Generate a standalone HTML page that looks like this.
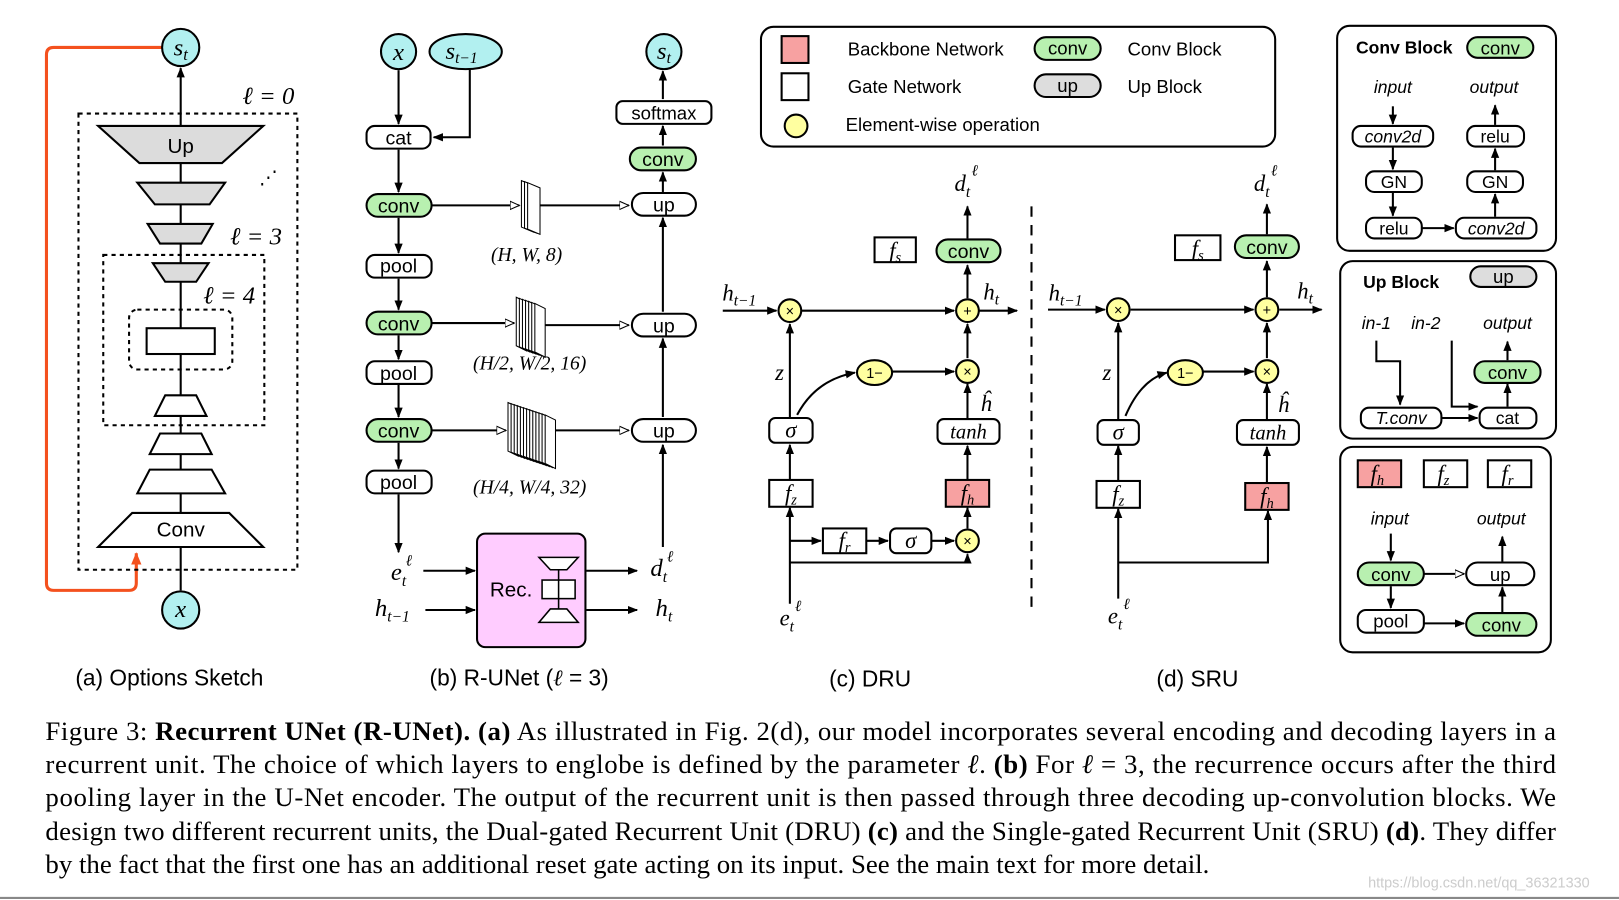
<!DOCTYPE html>
<html><head><meta charset="utf-8"><style>
html,body{margin:0;padding:0;background:#fff;overflow:hidden}
svg{display:block}
.s{font-family:"Liberation Sans",sans-serif}
.m{font-family:"Liberation Serif",serif;font-style:italic}
.r{font-family:"Liberation Serif",serif}
</style></head><body>
<svg width="1619" height="900" viewBox="0 0 1568 872" preserveAspectRatio="none" xmlns="http://www.w3.org/2000/svg">
<defs>
<marker id="a" markerWidth="10" markerHeight="10" refX="9" refY="5" orient="auto" markerUnits="userSpaceOnUse"><path d="M0,1 L10,5 L0,9 z" fill="#000"/></marker>
<marker id="h" markerWidth="10" markerHeight="10" refX="9" refY="5" orient="auto" markerUnits="userSpaceOnUse"><path d="M0,1 L9,5 L0,9 z" fill="#fff" stroke="#000"/></marker>
<marker id="o" markerWidth="12" markerHeight="12" refX="11" refY="6" orient="auto" markerUnits="userSpaceOnUse"><path d="M0,1 L12,6 L0,11 z" fill="#f4511e"/></marker>
</defs>
<rect width="1568" height="872" fill="#fff"/>
<g stroke="#000" stroke-width="2" fill="none">
<path d="M157,46 H52 Q45,46 45,53 V565 Q45,572 52,572 H125 Q132,572 132,565 V536" stroke="#f4511e" stroke-width="3" marker-end="url(#o)"/>
<line x1="175" y1="572" x2="175" y2="66" marker-end="url(#a)"/>
<rect x="76" y="110" width="212" height="442" stroke-dasharray="4,4"/>
<rect x="100" y="247" width="156" height="165" stroke-dasharray="4,4"/>
<rect x="125" y="300" width="100" height="58" rx="8" stroke-dasharray="4,4"/>
<polygon points="95,122 255,122 215,158 135,158" fill="#dcdcdc"/>
<polygon points="133,177 218,177 203,198 150,198" fill="#dcdcdc"/>
<polygon points="143,217 206,217 195,236 155,236" fill="#dcdcdc"/>
<polygon points="148,255 202,255 190,273 160,273" fill="#dcdcdc"/>
<rect x="142" y="318" width="66" height="25" fill="#fff"/>
<polygon points="160,383 190,383 200,403 150,403" fill="#fff"/>
<polygon points="155,420 195,420 205,440 145,440" fill="#fff"/>
<polygon points="145,455 205,455 218,478 133,478" fill="#fff"/>
<polygon points="128,497 222,497 255,530 95,530" fill="#fff"/>
<circle cx="175" cy="46" r="18" fill="#b2f0f0"/>
<circle cx="175" cy="591" r="18" fill="#b2f0f0"/>
</g>
<g class="s" font-size="20" text-anchor="middle">
<text x="175" y="148">Up</text><text x="175" y="520">Conv</text>
</g>
<g class="m" font-size="24" text-anchor="middle">
<text x="175" y="54">s<tspan font-size="16" dy="4">t</tspan></text>
<text x="175" y="598">x</text>
<text x="260" y="101">ℓ = 0</text><text x="248" y="237">ℓ = 3</text><text x="222" y="294">ℓ = 4</text>
<text x="260" y="178" font-size="18" font-style="normal">⋰</text>
</g>
<g stroke="#000" stroke-width="2" fill="none">
<line x1="386" y1="68" x2="386" y2="120" marker-end="url(#a)"/>
<path d="M455,66 V133 H420" marker-end="url(#a)"/>
<line x1="386" y1="145" x2="386" y2="186" marker-end="url(#a)"/>
<line x1="386" y1="211" x2="386" y2="245" marker-end="url(#a)"/>
<line x1="386" y1="270" x2="386" y2="300" marker-end="url(#a)"/>
<line x1="386" y1="325" x2="386" y2="348" marker-end="url(#a)"/>
<line x1="386" y1="373" x2="386" y2="404" marker-end="url(#a)"/>
<line x1="386" y1="429" x2="386" y2="454" marker-end="url(#a)"/>
<line x1="386" y1="479" x2="386" y2="535" marker-end="url(#a)"/>
<line x1="418" y1="199" x2="503" y2="199" marker-end="url(#h)"/>
<line x1="522" y1="199" x2="609" y2="199" marker-end="url(#h)"/>
<line x1="418" y1="313" x2="498" y2="313" marker-end="url(#h)"/>
<line x1="528" y1="315" x2="609" y2="315" marker-end="url(#h)"/>
<line x1="418" y1="417" x2="490" y2="417" marker-end="url(#h)"/>
<line x1="538" y1="417" x2="609" y2="417" marker-end="url(#h)"/>
<line x1="642" y1="530" x2="642" y2="431" marker-end="url(#a)"/>
<line x1="642" y1="404" x2="642" y2="328" marker-end="url(#a)"/>
<line x1="642" y1="302" x2="642" y2="211" marker-end="url(#a)"/>
<line x1="642" y1="186" x2="642" y2="167" marker-end="url(#a)"/>
<line x1="642" y1="141" x2="642" y2="122" marker-end="url(#a)"/>
<line x1="642" y1="96" x2="642" y2="69" marker-end="url(#a)"/>
<line x1="410" y1="553" x2="460" y2="553" marker-end="url(#a)"/>
<line x1="412" y1="591" x2="460" y2="591" marker-end="url(#a)"/>
<line x1="568" y1="553" x2="617" y2="553" marker-end="url(#a)"/>
<line x1="568" y1="591" x2="617" y2="591" marker-end="url(#a)"/>
<circle cx="386" cy="50" r="17" fill="#b2f0f0"/>
<ellipse cx="451" cy="50" rx="35" ry="17" fill="#b2f0f0"/>
<circle cx="643" cy="50" r="17" fill="#b2f0f0"/>
<rect x="355" y="122" width="62" height="22" rx="8" fill="#fff"/>
<rect x="355" y="188" width="63" height="22" rx="11" fill="#b8f0b0"/>
<rect x="355" y="247" width="63" height="22" rx="8" fill="#fff"/>
<rect x="355" y="302" width="63" height="22" rx="11" fill="#b8f0b0"/>
<rect x="355" y="350" width="63" height="22" rx="8" fill="#fff"/>
<rect x="355" y="406" width="63" height="22" rx="11" fill="#b8f0b0"/>
<rect x="355" y="456" width="63" height="22" rx="8" fill="#fff"/>
<rect x="597" y="98" width="92" height="22" rx="6" fill="#fff"/>
<rect x="610" y="143" width="64" height="22" rx="11" fill="#b8f0b0"/>
<rect x="612" y="187" width="62" height="22" rx="11" fill="#fff"/>
<rect x="612" y="304" width="62" height="22" rx="11" fill="#fff"/>
<rect x="612" y="406" width="62" height="22" rx="11" fill="#fff"/>
<rect x="462" y="517" width="105" height="110" rx="8" fill="#ffccff"/>
<polygon points="522,540 560,540 549,552 533,552" fill="#fff" stroke-width="1.5"/>
<rect x="525" y="562" width="32" height="18" fill="#fff" stroke-width="1.5"/>
<polygon points="533,590 549,590 560,603 522,603" fill="#fff" stroke-width="1.5"/>
<line x1="541" y1="552" x2="541" y2="590" stroke-width="1.5"/>
</g>
<g stroke="#000" stroke-width="1" fill="#fff">
<polygon points="505,175 517,180 517,225 505,220"/><polygon points="508,176 520,181 520,226 508,221"/><polygon points="511,177 523,182 523,227 511,222"/>
<polygon points="500,288 510,293 510,340 500,335"/><polygon points="503,289 513,294 513,341 503,336"/><polygon points="506,290 516,295 516,342 506,337"/><polygon points="509,291 519,296 519,343 509,338"/><polygon points="512,292 522,297 522,344 512,339"/><polygon points="515,293 525,298 525,345 515,340"/><polygon points="518,294 528,299 528,346 518,341"/>
<polygon points="492,390 502,395 502,442 492,437"/><polygon points="495,391 505,396 505,443 495,438"/><polygon points="498,392 508,397 508,444 498,439"/><polygon points="501,393 511,398 511,445 501,440"/><polygon points="504,394 514,399 514,446 504,441"/><polygon points="507,395 517,400 517,447 507,442"/><polygon points="510,396 520,401 520,448 510,443"/><polygon points="513,397 523,402 523,449 513,444"/><polygon points="516,398 526,403 526,450 516,445"/><polygon points="519,399 529,404 529,451 519,446"/><polygon points="522,400 532,405 532,452 522,447"/><polygon points="525,401 535,406 535,453 525,448"/><polygon points="528,402 538,407 538,454 528,449"/>
</g>
<g class="s" font-size="19" text-anchor="middle">
<text x="386" y="140">cat</text><text x="386" y="206">conv</text><text x="386" y="264">pool</text><text x="386" y="320">conv</text><text x="386" y="368">pool</text><text x="386" y="424">conv</text><text x="386" y="474">pool</text>
<text x="643" y="116" font-size="18">softmax</text><text x="642" y="161">conv</text><text x="643" y="205">up</text><text x="643" y="322">up</text><text x="643" y="424">up</text>
<text x="495" y="578" font-size="20">Rec.</text>
</g>
<g class="m" font-size="24" text-anchor="middle">
<text x="386" y="58">x</text><text x="447" y="57">s<tspan font-size="15" dy="4">t−1</tspan></text><text x="643" y="57">s<tspan font-size="15" dy="4">t</tspan></text>
<text x="386" y="562">e<tspan font-size="15" dy="6">t</tspan></text><text x="396" y="548" font-size="15">ℓ</text>
<text x="380" y="597">h<tspan font-size="15" dy="5">t−1</tspan></text>
<text x="638" y="558">d<tspan font-size="15" dy="6">t</tspan></text><text x="649" y="544" font-size="15">ℓ</text>
<text x="643" y="597">h<tspan font-size="15" dy="5">t</tspan></text>
</g>
<g class="r" font-size="19" text-anchor="middle" font-style="italic">
<text x="510" y="253">(H, W, 8)</text><text x="513" y="358">(H/2, W/2, 16)</text><text x="513" y="478">(H/4, W/4, 32)</text>
</g>
<g stroke="#000" stroke-width="2">
<rect x="737" y="26" width="498" height="116" rx="12" fill="#fff"/>
<rect x="757" y="35" width="26" height="26" fill="#f7a1a1"/>
<rect x="757" y="71" width="26" height="26" fill="#fff"/>
<circle cx="771" cy="122" r="11" fill="#ffffa0"/>
<rect x="1002" y="36" width="64" height="22" rx="11" fill="#b8f0b0"/>
<rect x="1002" y="72" width="64" height="22" rx="11" fill="#ddd"/>
</g>
<g class="s" font-size="18">
<text x="821" y="54">Backbone Network</text><text x="821" y="90">Gate Network</text><text x="819" y="127">Element-wise operation</text>
<text x="1092" y="54">Conv Block</text><text x="1092" y="90">Up Block</text>
<text x="1034" y="53" text-anchor="middle">conv</text><text x="1034" y="89" text-anchor="middle">up</text>
</g>
<g stroke="#000" stroke-width="2" fill="none">
<line x1="999" y1="200" x2="999" y2="595" stroke-dasharray="10,8"/>
<line x1="700" y1="301" x2="752" y2="301" marker-end="url(#a)"/>
<line x1="776" y1="301" x2="924" y2="301" marker-end="url(#a)"/>
<line x1="948" y1="301" x2="985" y2="301" marker-end="url(#a)"/>
<line x1="937" y1="289" x2="937" y2="257" marker-end="url(#a)"/>
<line x1="937" y1="231" x2="937" y2="200" marker-end="url(#a)"/>
<line x1="937" y1="347" x2="937" y2="314" marker-end="url(#a)"/>
<line x1="937" y1="405" x2="937" y2="372" marker-end="url(#a)"/>
<line x1="937" y1="465" x2="937" y2="432" marker-end="url(#a)"/>
<line x1="937" y1="512" x2="937" y2="492" marker-end="url(#a)"/>
<line x1="765" y1="405" x2="765" y2="314" marker-end="url(#a)"/>
<line x1="765" y1="465" x2="765" y2="431" marker-end="url(#a)"/>
<line x1="765" y1="585" x2="765" y2="492" marker-end="url(#a)"/>
<path d="M765,545 H937 V537" marker-end="url(#a)"/>
<line x1="765" y1="524" x2="795" y2="524" marker-end="url(#a)"/>
<line x1="839" y1="524" x2="860" y2="524" marker-end="url(#a)"/>
<line x1="902" y1="524" x2="924" y2="524" marker-end="url(#a)"/>
<path d="M772,402 Q790,368 828,361" marker-end="url(#a)"/>
<line x1="864" y1="360" x2="924" y2="360" marker-end="url(#a)"/>
<circle cx="765" cy="301" r="11" fill="#ffffa0"/><circle cx="937" cy="301" r="11" fill="#ffffa0"/>
<circle cx="937" cy="360" r="11" fill="#ffffa0"/><circle cx="937" cy="524" r="11" fill="#ffffa0"/>
<ellipse cx="847" cy="361" rx="17" ry="12" fill="#ffffa0"/>
<rect x="907" y="232" width="62" height="22" rx="11" fill="#b8f0b0"/>
<rect x="847" y="230" width="40" height="24" fill="#fff"/>
<rect x="908" y="406" width="60" height="24" rx="6" fill="#fff"/>
<rect x="916" y="465" width="42" height="26" fill="#f7a1a1"/>
<rect x="745" y="405" width="42" height="24" rx="6" fill="#fff"/>
<rect x="745" y="465" width="42" height="26" fill="#fff"/>
<rect x="797" y="512" width="42" height="24" fill="#fff"/>
<rect x="862" y="512" width="40" height="24" rx="6" fill="#fff"/>
<line x1="1015" y1="300" x2="1070" y2="300" marker-end="url(#a)"/>
<line x1="1095" y1="300" x2="1214" y2="300" marker-end="url(#a)"/>
<line x1="1239" y1="300" x2="1280" y2="300" marker-end="url(#a)"/>
<line x1="1227" y1="288" x2="1227" y2="253" marker-end="url(#a)"/>
<line x1="1227" y1="227" x2="1227" y2="198" marker-end="url(#a)"/>
<line x1="1227" y1="347" x2="1227" y2="313" marker-end="url(#a)"/>
<line x1="1227" y1="406" x2="1227" y2="372" marker-end="url(#a)"/>
<line x1="1227" y1="467" x2="1227" y2="433" marker-end="url(#a)"/>
<line x1="1083" y1="406" x2="1083" y2="313" marker-end="url(#a)"/>
<line x1="1083" y1="466" x2="1083" y2="432" marker-end="url(#a)"/>
<line x1="1083" y1="580" x2="1083" y2="493" marker-end="url(#a)"/>
<path d="M1083,545 H1228 V495" marker-end="url(#a)"/>
<path d="M1090,403 Q1105,368 1130,361" marker-end="url(#a)"/>
<line x1="1165" y1="360" x2="1214" y2="360" marker-end="url(#a)"/>
<circle cx="1083" cy="300" r="11" fill="#ffffa0"/><circle cx="1227" cy="300" r="11" fill="#ffffa0"/>
<circle cx="1227" cy="360" r="11" fill="#ffffa0"/>
<ellipse cx="1148" cy="361" rx="17" ry="12" fill="#ffffa0"/>
<rect x="1196" y="228" width="62" height="22" rx="11" fill="#b8f0b0"/>
<rect x="1138" y="228" width="44" height="24" fill="#fff"/>
<rect x="1198" y="407" width="60" height="24" rx="6" fill="#fff"/>
<rect x="1206" y="468" width="42" height="26" fill="#f7a1a1"/>
<rect x="1063" y="407" width="40" height="24" rx="6" fill="#fff"/>
<rect x="1062" y="466" width="42" height="26" fill="#fff"/>
</g>
<g class="s" font-size="19" text-anchor="middle">
<text x="938" y="250">conv</text><text x="1227" y="246">conv</text>
<g font-size="14"><text x="937" y="306">+</text><text x="937" y="365">×</text><text x="765" y="306">×</text><text x="937" y="529">×</text><text x="847" y="366">1−</text>
<text x="1227" y="305">+</text><text x="1227" y="365">×</text><text x="1083" y="305">×</text><text x="1148" y="366">1−</text></g>
</g>
<g class="m" font-size="22" text-anchor="middle">
<text x="867" y="250">f<tspan font-size="14" dy="4">s</tspan></text><text x="1160" y="248">f<tspan font-size="14" dy="4">s</tspan></text>
<text x="938" y="425" font-size="20">tanh</text><text x="1228" y="426" font-size="20">tanh</text>
<text x="937" y="485">f<tspan font-size="14" dy="4">h</tspan></text><text x="1227" y="488">f<tspan font-size="14" dy="4">h</tspan></text>
<text x="766" y="424">σ</text><text x="882" y="531">σ</text><text x="1083" y="426">σ</text>
<text x="766" y="485">f<tspan font-size="14" dy="4">z</tspan></text><text x="1083" y="486">f<tspan font-size="14" dy="4">z</tspan></text>
<text x="818" y="531">f<tspan font-size="14" dy="4">r</tspan></text>
<text x="755" y="368">z</text><text x="1072" y="368">z</text>
<text x="955" y="398">ĥ</text><text x="1243" y="399">ĥ</text>
<text x="932" y="185">d<tspan font-size="15" dy="6">t</tspan></text><text x="944" y="170" font-size="15">ℓ</text>
<text x="1222" y="185">d<tspan font-size="15" dy="6">t</tspan></text><text x="1234" y="170" font-size="15">ℓ</text>
<text x="762" y="606">e<tspan font-size="15" dy="6">t</tspan></text><text x="773" y="592" font-size="15">ℓ</text>
<text x="1080" y="604">e<tspan font-size="15" dy="6">t</tspan></text><text x="1091" y="590" font-size="15">ℓ</text>
<text x="716" y="291">h<tspan font-size="15" dy="5">t−1</tspan></text><text x="1032" y="291">h<tspan font-size="15" dy="5">t−1</tspan></text>
<text x="960" y="290">h<tspan font-size="15" dy="5">t</tspan></text><text x="1264" y="289">h<tspan font-size="15" dy="5">t</tspan></text>
</g>
<g stroke="#000" stroke-width="2" fill="none">
<rect x="1295" y="25" width="212" height="218" rx="12" fill="#fff"/>
<rect x="1298" y="253" width="209" height="172" rx="12" fill="#fff"/>
<rect x="1298" y="433" width="204" height="199" rx="12" fill="#fff"/>
<line x1="1349" y1="103" x2="1349" y2="120" marker-end="url(#a)"/>
<line x1="1349" y1="143" x2="1349" y2="164" marker-end="url(#a)"/>
<line x1="1349" y1="187" x2="1349" y2="209" marker-end="url(#a)"/>
<line x1="1377" y1="221" x2="1408" y2="221" marker-end="url(#a)"/>
<line x1="1448" y1="210" x2="1448" y2="188" marker-end="url(#a)"/>
<line x1="1448" y1="165" x2="1448" y2="144" marker-end="url(#a)"/>
<line x1="1448" y1="121" x2="1448" y2="102" marker-end="url(#a)"/>
<path d="M1333,330 V350 H1356 V392" marker-end="url(#a)"/>
<path d="M1406,330 V394 H1431" marker-end="url(#a)"/>
<line x1="1396" y1="405" x2="1431" y2="405" marker-end="url(#a)"/>
<line x1="1460" y1="394" x2="1460" y2="372" marker-end="url(#a)"/>
<line x1="1460" y1="349" x2="1460" y2="331" marker-end="url(#a)"/>
<line x1="1347" y1="517" x2="1347" y2="543" marker-end="url(#a)"/>
<line x1="1347" y1="568" x2="1347" y2="589" marker-end="url(#a)"/>
<line x1="1379" y1="556" x2="1418" y2="556" marker-end="url(#h)"/>
<line x1="1379" y1="604" x2="1418" y2="604" marker-end="url(#a)"/>
<line x1="1455" y1="593" x2="1455" y2="569" marker-end="url(#a)"/>
<line x1="1455" y1="544" x2="1455" y2="520" marker-end="url(#a)"/>
<rect x="1421" y="36" width="64" height="20" rx="10" fill="#b8f0b0"/>
<rect x="1310" y="122" width="78" height="20" rx="8" fill="#fff"/>
<rect x="1421" y="122" width="55" height="20" rx="8" fill="#fff"/>
<rect x="1323" y="166" width="54" height="20" rx="8" fill="#fff"/>
<rect x="1421" y="166" width="54" height="20" rx="8" fill="#fff"/>
<rect x="1323" y="211" width="54" height="20" rx="8" fill="#fff"/>
<rect x="1410" y="211" width="78" height="20" rx="8" fill="#fff"/>
<rect x="1424" y="258" width="64" height="20" rx="10" fill="#ddd"/>
<rect x="1428" y="350" width="64" height="21" rx="10" fill="#b8f0b0"/>
<rect x="1318" y="395" width="78" height="20" rx="8" fill="#fff"/>
<rect x="1433" y="395" width="55" height="20" rx="8" fill="#fff"/>
<rect x="1315" y="446" width="42" height="26" fill="#f7a1a1"/>
<rect x="1379" y="446" width="42" height="26" fill="#fff"/>
<rect x="1441" y="446" width="42" height="26" fill="#fff"/>
<rect x="1315" y="545" width="64" height="22" rx="11" fill="#b8f0b0"/>
<rect x="1420" y="545" width="66" height="22" rx="11" fill="#fff"/>
<rect x="1315" y="591" width="64" height="22" rx="8" fill="#fff"/>
<rect x="1420" y="594" width="68" height="22" rx="11" fill="#b8f0b0"/>
</g>
<g class="s" font-size="17" text-anchor="middle">
<text x="1360" y="52" font-weight="bold">Conv Block</text><text x="1453" y="53" font-size="18">conv</text>
<text x="1357" y="279" font-weight="bold">Up Block</text><text x="1456" y="274" font-size="18">up</text>
<g font-style="italic"><text x="1349" y="90">input</text><text x="1447" y="90">output</text>
<text x="1349" y="138">conv2d</text><text x="1449" y="227">conv2d</text>
<text x="1333" y="319">in-1</text><text x="1381" y="319">in-2</text><text x="1460" y="319">output</text>
<text x="1357" y="411">T.conv</text>
<text x="1346" y="508">input</text><text x="1454" y="508">output</text></g>
<text x="1448" y="138">relu</text><text x="1350" y="182">GN</text><text x="1448" y="182">GN</text><text x="1350" y="227">relu</text>
<text x="1460" y="367" font-size="18">conv</text><text x="1460" y="411">cat</text>
<text x="1347" y="563" font-size="18">conv</text><text x="1453" y="563" font-size="18">up</text><text x="1347" y="608" font-size="18">pool</text><text x="1454" y="612" font-size="18">conv</text>
</g>
<g class="m" font-size="22" text-anchor="middle">
<text x="1334" y="466">f<tspan font-size="14" dy="4">h</tspan></text><text x="1398" y="466">f<tspan font-size="14" dy="4">z</tspan></text><text x="1460" y="466">f<tspan font-size="14" dy="4">r</tspan></text>
</g>
<g class="s" font-size="22">
<text x="73" y="664">(a) Options Sketch</text>
<text x="416" y="664">(b) R-UNet (<tspan class="m">ℓ</tspan> = 3)</text>
<text x="803" y="665">(c) DRU</text>
<text x="1120" y="665">(d) SRU</text>
</g>
<g class="r" font-size="26">
<text x="44" y="717" textLength="1463" lengthAdjust="spacing">Figure 3: <tspan font-weight="bold">Recurrent UNet (R-UNet).</tspan> <tspan font-weight="bold">(a)</tspan> As illustrated in Fig. 2(d), our model incorporates several encoding and decoding layers in a</text>
<text x="44" y="749" textLength="1463" lengthAdjust="spacing">recurrent unit. The choice of which layers to englobe is defined by the parameter <tspan font-style="italic">ℓ</tspan>. <tspan font-weight="bold">(b)</tspan> For <tspan font-style="italic">ℓ</tspan> = 3, the recurrence occurs after the third</text>
<text x="44" y="781" textLength="1463" lengthAdjust="spacing">pooling layer in the U-Net encoder. The output of the recurrent unit is then passed through three decoding up-convolution blocks. We</text>
<text x="44" y="814" textLength="1463" lengthAdjust="spacing">design two different recurrent units, the Dual-gated Recurrent Unit (DRU) <tspan font-weight="bold">(c)</tspan> and the Single-gated Recurrent Unit (SRU) <tspan font-weight="bold">(d)</tspan>. They differ</text>
<text x="44" y="846">by the fact that the first one has an additional reset gate acting on its input. See the main text for more detail.</text>
</g>
<text x="1325" y="860" class="s" font-size="14" fill="#ccc">https://blog.csdn.net/qq_36321330</text>
<line x1="0" y1="870" x2="1568" y2="870" stroke="#888" stroke-width="2"/>
</svg>
</body></html>
